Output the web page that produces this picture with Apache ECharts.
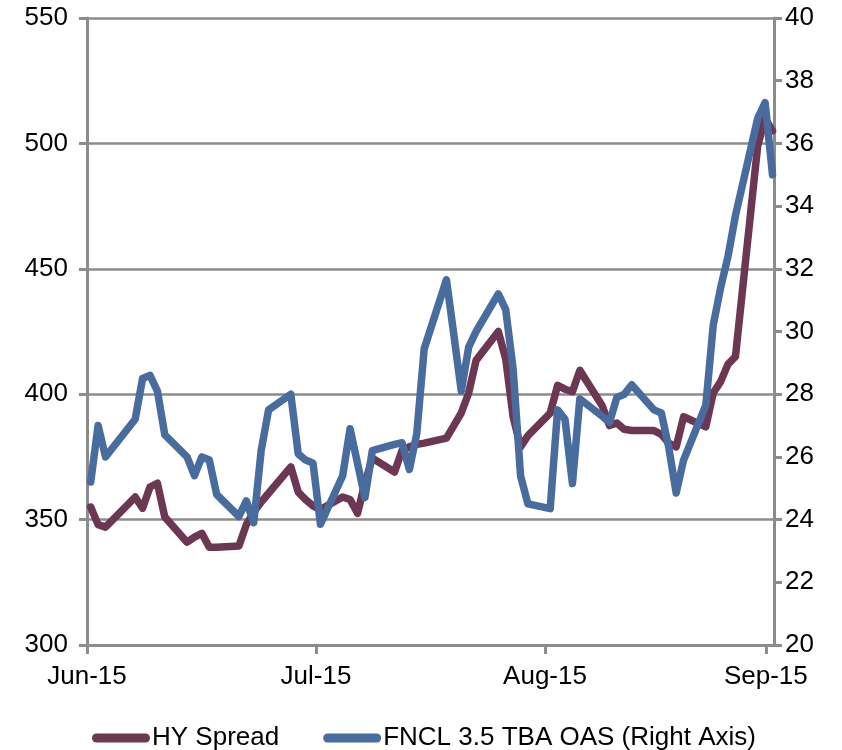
<!DOCTYPE html>
<html>
<head>
<meta charset="utf-8">
<title>HY Spread vs FNCL 3.5 TBA OAS</title>
<script src="https://cdn.jsdelivr.net/npm/echarts@6/dist/echarts.min.js"></script>
<style>
  html, body { margin: 0; padding: 0; background: #ffffff; }
  #chart { width: 842px; height: 750px; }
</style>
</head>
<body>
<div id="chart"></div>
<script>
// Trading days, June - early September 2015
const dates = [
  '2015-06-02','2015-06-03','2015-06-04','2015-06-05',
  '2015-06-08','2015-06-09','2015-06-10','2015-06-11','2015-06-12',
  '2015-06-15','2015-06-16','2015-06-17','2015-06-18','2015-06-19',
  '2015-06-22','2015-06-23','2015-06-24','2015-06-25','2015-06-26',
  '2015-06-29','2015-06-30','2015-07-01','2015-07-02','2015-07-03',
  '2015-07-06','2015-07-07','2015-07-08','2015-07-09','2015-07-10',
  '2015-07-13','2015-07-14','2015-07-15','2015-07-16','2015-07-17',
  '2015-07-20','2015-07-21','2015-07-22','2015-07-23','2015-07-24',
  '2015-07-27','2015-07-28','2015-07-29','2015-07-30','2015-07-31',
  '2015-08-03','2015-08-04','2015-08-05','2015-08-06','2015-08-07',
  '2015-08-10','2015-08-11','2015-08-12','2015-08-13','2015-08-14',
  '2015-08-17','2015-08-18','2015-08-19','2015-08-20','2015-08-21',
  '2015-08-24','2015-08-25','2015-08-26','2015-08-27','2015-08-28',
  '2015-08-31','2015-09-01','2015-09-02'
];

// HY Spread (bp, left axis)
const hySpread = [
  355, 348, 347, 350,
  359, 354.5, 363, 364.5, 351,
  341, 343, 344.5, 339, 339,
  339.5, 348, 353, 357, 360.5,
  371, 361, 358, 355.5, 354,
  359, 358, 352.5, 364.5, 374.5,
  369, 377.5, 379, 380, 380.5,
  382.5, 387.5, 392.5, 400.5, 413.5,
  425, 414, 391, 379, 383.5,
  392.5, 403.5, 402, 401, 409.5,
  395.5, 387.5, 388.5, 386, 385.5,
  385.5, 384, 380.5, 379, 391,
  387, 400.5, 405, 412, 415,
  499, 510, 505
];

// FNCL 3.5 TBA OAS (bp, right axis)
const fnclOas = [
  25.2, 27.0, 26.0, 26.3,
  27.2, 28.5, 28.6, 28.1, 26.7,
  26.0, 25.4, 26.0, 25.9, 24.8,
  24.1, 24.6, 23.9, 26.2, 27.5,
  28.0, 26.1, 25.9, 25.8, 23.85,
  25.4, 26.9, 25.8, 24.7, 26.2,
  26.4, 26.45, 25.6, 26.75, 29.45,
  31.65, 29.9, 28.1, 29.5, 30.0,
  31.2, 30.7, 28.8, 25.4, 24.5,
  24.35, 27.5, 27.2, 25.15, 27.85,
  27.3, 27.1, 27.9, 28.0, 28.3,
  27.5, 27.4, 26.3, 24.85, 25.9,
  27.65, 30.2, 31.4, 32.4, 33.7,
  36.8, 37.3, 35.0
];

// Date-axis tick positions (days after 1 June 2015) and their labels
const monthTickDays = [0.5, 31.4, 62.3, 92.1];
const monthLabels = ['Jun-15', 'Jul-15', 'Aug-15', 'Sep-15'];

// Axis ranges
const leftAxisRange = { min: 300, max: 550, step: 50 };
const rightAxisRange = { min: 20, max: 40, step: 2 };

const seriesNames = ['HY Spread', 'FNCL 3.5 TBA OAS (Right Axis)'];
const seriesColors = ['#6b3753', '#496c9e'];

const DAY_MS = 86400000;
const origin = Date.UTC(2015, 5, 1);
function dayOffset(s) {
  const p = s.split('-').map(Number);
  return (Date.UTC(p[0], p[1] - 1, p[2]) - origin) / DAY_MS;
}
const xs = dates.map(dayOffset);
const hyPoints = xs.map((x, i) => [x, hySpread[i]]);
const oasPoints = xs.map((x, i) => [x, fnclOas[i]]);

const FONT = "'Liberation Sans', Arial, Helvetica, sans-serif";
const AXIS_GREY = '#8c8c8c';
const axisLineStyle = { color: AXIS_GREY, width: 3 };

const chart = echarts.init(document.getElementById('chart'), null, { renderer: 'canvas' });

chart.setOption({
  animation: false,
  backgroundColor: '#ffffff',
  textStyle: { fontFamily: FONT },
  grid: { left: 87, right: 68, top: 18, bottom: 105, containLabel: false },
  legend: {
    data: seriesNames,
    left: 87,
    top: 720,
    itemGap: 44,
    itemWidth: 58,
    itemHeight: 9,
    icon: 'path://M4.5,0 H53.5 A4.5,4.5 0 0 1 53.5,9 H4.5 A4.5,4.5 0 0 1 4.5,0 Z',
    textStyle: { fontFamily: FONT, fontSize: 26, color: '#000000', padding: [0, 0, 0, -3] }
  },
  xAxis: {
    type: 'value',
    min: 0.5,
    max: 93.2,
    splitLine: { show: false },
    axisLine: { show: true, onZero: false, lineStyle: axisLineStyle },
    axisTick: {
      show: true,
      customValues: monthTickDays,
      length: 9,
      inside: false,
      lineStyle: axisLineStyle
    },
    axisLabel: {
      customValues: monthTickDays,
      fontFamily: FONT,
      fontSize: 26,
      color: '#000000',
      margin: 19,
      formatter: function (v) {
        let best = 0;
        for (let i = 1; i < monthTickDays.length; i++) {
          if (Math.abs(monthTickDays[i] - v) < Math.abs(monthTickDays[best] - v)) best = i;
        }
        return monthLabels[best];
      }
    }
  },
  yAxis: [
    {
      type: 'value',
      position: 'left',
      min: leftAxisRange.min,
      max: leftAxisRange.max,
      interval: leftAxisRange.step,
      axisLine: { show: true, onZero: false, lineStyle: axisLineStyle },
      axisTick: { show: true, length: 8, inside: false, lineStyle: axisLineStyle },
      splitLine: { show: true, lineStyle: { color: AXIS_GREY, width: 2.5 } },
      axisLabel: { fontFamily: FONT, fontSize: 26, color: '#000000', margin: 19 }
    },
    {
      type: 'value',
      position: 'right',
      min: rightAxisRange.min,
      max: rightAxisRange.max,
      interval: rightAxisRange.step,
      axisLine: { show: true, onZero: false, lineStyle: axisLineStyle },
      axisTick: { show: true, length: 8, inside: false, lineStyle: axisLineStyle },
      splitLine: { show: false },
      axisLabel: { fontFamily: FONT, fontSize: 26, color: '#000000', margin: 11 }
    }
  ],
  series: [
    {
      name: seriesNames[0],
      type: 'line',
      yAxisIndex: 0,
      data: hyPoints,
      symbol: 'none',
      showSymbol: false,
      clip: false,
      color: seriesColors[0],
      lineStyle: { width: 7.5, color: seriesColors[0], cap: 'round', join: 'round' }
    },
    {
      name: seriesNames[1],
      type: 'line',
      yAxisIndex: 1,
      data: oasPoints,
      symbol: 'none',
      showSymbol: false,
      clip: false,
      color: seriesColors[1],
      lineStyle: { width: 7.5, color: seriesColors[1], cap: 'round', join: 'round' }
    }
  ]
});
</script>
</body>
</html>
